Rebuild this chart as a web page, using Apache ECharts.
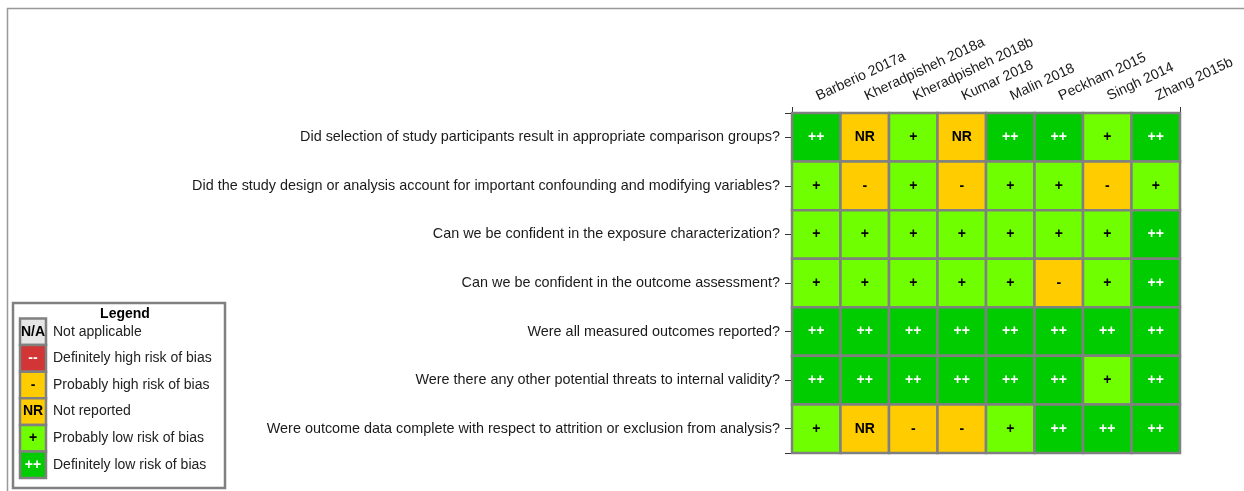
<!DOCTYPE html>
<html>
<head>
<meta charset="utf-8">
<script src="https://cdn.jsdelivr.net/npm/echarts@6/dist/echarts.min.js"></script>
<style>
html,body{margin:0;padding:0;background:#fff;}
#chart{width:1244px;height:491px;}
</style>
</head>
<body>
<div id="chart"></div>
<script>
const studies = ['Barberio 2017a','Kheradpisheh 2018a','Kheradpisheh 2018b','Kumar 2018','Malin 2018','Peckham 2015','Singh 2014','Zhang 2015b'];
const questions = [
  'Did selection of study participants result in appropriate comparison groups?',
  'Did the study design or analysis account for important confounding and modifying variables?',
  'Can we be confident in the exposure characterization?',
  'Can we be confident in the outcome assessment?',
  'Were all measured outcomes reported?',
  'Were there any other potential threats to internal validity?',
  'Were outcome data complete with respect to attrition or exclusion from analysis?'
];
const q1Ratings = ['++','NR','+','NR','++','++','+','++'];
const q2Ratings = ['+','-','+','-','+','+','-','+'];
const q3Ratings = ['+','+','+','+','+','+','+','++'];
const q4Ratings = ['+','+','+','+','+','-','+','++'];
const q5Ratings = ['++','++','++','++','++','++','++','++'];
const q6Ratings = ['++','++','++','++','++','++','+','++'];
const q7Ratings = ['+','NR','-','-','+','++','++','++'];
const legendKeys = ['N/A','--','-','NR','+','++'];
const legendLabels = ['Not applicable','Definitely high risk of bias','Probably high risk of bias','Not reported','Probably low risk of bias','Definitely low risk of bias'];

const ratingRows = [q1Ratings,q2Ratings,q3Ratings,q4Ratings,q5Ratings,q6Ratings,q7Ratings];
const fillColor = {'++':'#00cc00','+':'#70ff00','-':'#ffcc00','NR':'#ffcc00','--':'#d13535','N/A':'#e6e6e6'};
const textColor = {'++':'#ffffff','+':'#000000','-':'#000000','NR':'#000000','--':'#ffffff','N/A':'#000000'};
const borderGray = '#808080';
const FONT = '"Liberation Sans", Arial, sans-serif';

const cells = [];
ratingRows.forEach((row, i) => row.forEach((r, j) => cells.push([j, i, r])));

const legendGraphics = [];
const lgX = 13, lgY = 303, sw = 26, sh = 26.6, swY0 = 318.5;
legendGraphics.push({type:'rect', shape:{x:lgX, y:lgY, width:212, height:185}, style:{fill:'#fff', stroke:borderGray, lineWidth:2.5}});
legendGraphics.push({type:'text', x:125, y:314, style:{text:'Legend', font:'bold 14px '+FONT, fill:'#000', align:'center', verticalAlign:'middle'}});
legendKeys.forEach((k, i) => {
  const y = swY0 + i*sh;
  legendGraphics.push({type:'rect', shape:{x:20, y:y, width:sw, height:sh}, style:{fill:fillColor[k], stroke:borderGray, lineWidth:2.5}});
  legendGraphics.push({type:'text', x:20+sw/2, y:y+sh/2, style:{text:k, font:'bold 14px '+FONT, fill:textColor[k], align:'center', verticalAlign:'middle'}});
  legendGraphics.push({type:'text', x:53, y:y+sh/2, style:{text:legendLabels[i], font:'14px '+FONT, fill:'#222', align:'left', verticalAlign:'middle'}});
});

const chart = echarts.init(document.getElementById('chart'), null, {renderer:'canvas'});
chart.setOption({
  animation:false,
  backgroundColor:'#fff',
  grid:{left:792, right:64, top:113, bottom:38, containLabel:false},
  xAxis:[{
    type:'category', data:studies, position:'top', boundaryGap:true,
    axisLine:{show:false},
    axisTick:{show:true, alignWithLabel:true, length:6, lineStyle:{color:'#333'}},
    axisLabel:{rotate:25, fontSize:14.2, fontFamily:FONT, color:'#1a1a1a', margin:8, interval:0, align:'left', verticalAlign:'bottom', padding:[0,0,0,4]},
    splitLine:{show:false}
  },{
    type:'value', position:'top', min:0, max:8, interval:8,
    axisLine:{show:false}, axisLabel:{show:false},
    axisTick:{show:true, length:6, lineStyle:{color:'#333'}},
    splitLine:{show:false}
  }],
  yAxis:[{
    type:'category', data:questions, inverse:true, boundaryGap:true,
    axisLine:{show:false},
    axisTick:{show:true, alignWithLabel:true, length:7, lineStyle:{color:'#333'}},
    axisLabel:{fontSize:14.4, fontFamily:FONT, color:'#1a1a1a', margin:12, interval:0},
    splitLine:{show:false}
  },{
    type:'value', position:'left', min:0, max:7, interval:7,
    axisLine:{show:false}, axisLabel:{show:false},
    axisTick:{show:true, length:7, lineStyle:{color:'#333'}},
    splitLine:{show:false}
  }],
  series:[{
    type:'custom', xAxisIndex:0, yAxisIndex:0,
    data:cells.map(c => [c[0], c[1]]),
    encode:{x:0, y:1},
    renderItem:function(params, api){
      const r = cells[params.dataIndex][2];
      const c = api.coord([api.value(0), api.value(1)]);
      const s = api.size([1,1]);
      return {type:'group', children:[
        {type:'rect', shape:{x:c[0]-s[0]/2, y:c[1]-s[1]/2, width:s[0], height:s[1]},
         style:{fill:fillColor[r], stroke:borderGray, lineWidth:2.5}},
        {type:'text', x:c[0], y:c[1], style:{text:r, font:'bold 14px '+FONT, fill:textColor[r], align:'center', verticalAlign:'middle'}}
      ]};
    }
  }],
  graphic:[
    {type:'rect', silent:true, shape:{x:7.5, y:8.5, width:1300, height:600}, style:{fill:'none', stroke:'#999', lineWidth:1.5}, z:-10},
    {type:'group', children:legendGraphics}
  ]
});
</script>
</body>
</html>
